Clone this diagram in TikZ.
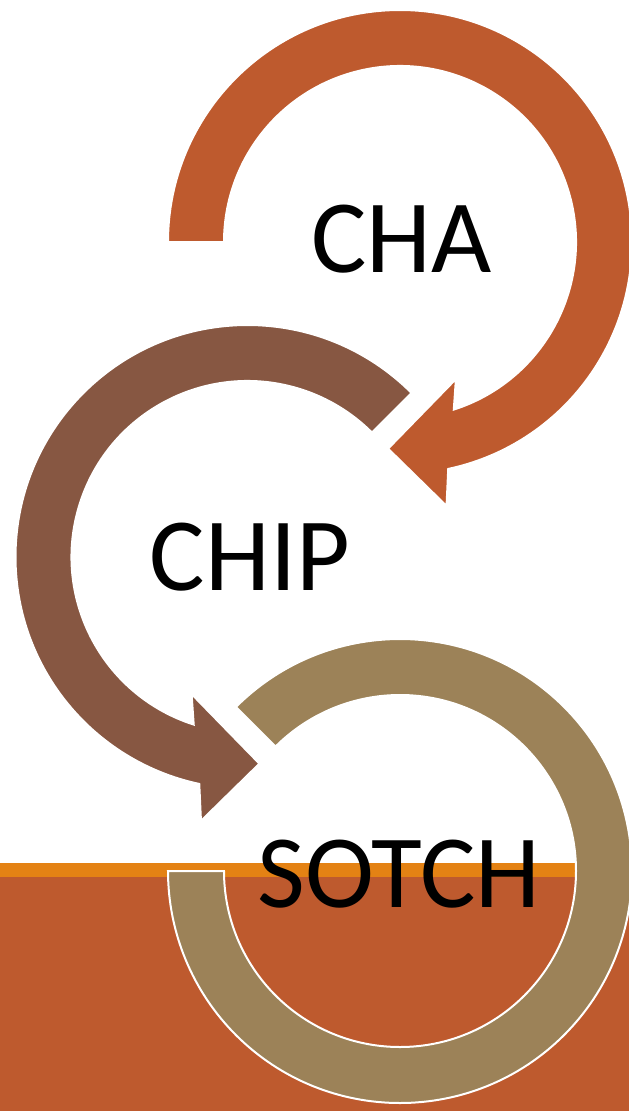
\documentclass[tikz,border=0pt]{standalone}
\usepackage{fontspec}
\setmainfont{Carlito}
\definecolor{rust}{HTML}{BE5A2E}
\definecolor{brownarrow}{HTML}{875742}
\definecolor{olivearrow}{HTML}{9C8258}
\definecolor{orangeline}{HTML}{E48214}
\tikzset{
  ringarrow/.style={draw=white, line width=2pt, line join=miter},
  label/.style={inner sep=0pt, anchor=base, text=black, font=\fontsize{104}{110}\selectfont}
}
\begin{document}
\begin{tikzpicture}[x=1pt,y=1pt]
\useasboundingbox (0,0) rectangle (629,-1111);
% background band
\fill[rust] (0,-877) rectangle (629,-1111);
\fill[orangeline] (0,-863) rectangle (629,-877);
% centres
\coordinate (c1) at (400,-242);
\coordinate (c2) at (247.5,-557);
\coordinate (c3) at (400,-871);
% arrow 1 (CHA)
\begin{scope}[shift={(c1)}]
\fill[rust, ringarrow] (180:232) arc[start angle=180, end angle=-78, radius=232]
  -- (-80:268) -- (-93.3:207) -- (-67.8:148) -- (-72.2:176)
  arc[start angle=-72.2, end angle=180, radius=176] -- cycle;
\end{scope}
% arrow 2 (CHIP)
\begin{scope}[shift={(c2)}]
\fill[brownarrow, ringarrow] (45:232) arc[start angle=45, end angle=258, radius=232]
  -- (260:268) -- (273.3:207) -- (247.8:148) -- (252.2:176)
  arc[start angle=252.2, end angle=45, radius=176] -- cycle;
\end{scope}
% arrow 3 (SOTCH)
\begin{scope}[shift={(c3)}]
\fill[olivearrow, ringarrow] (135:232) arc[start angle=135, end angle=-180, radius=232]
  -- (-180:176)
  arc[start angle=-180, end angle=135, radius=176] -- cycle;
\end{scope}
% labels
\node[label] (cha) at (401.5,-272.7) {CHA};
\node[label] (chip) at (250,-590) {CHIP};
\node[label] (sotch) at (399,-907) {SOTCH};
\end{tikzpicture}
\end{document}
